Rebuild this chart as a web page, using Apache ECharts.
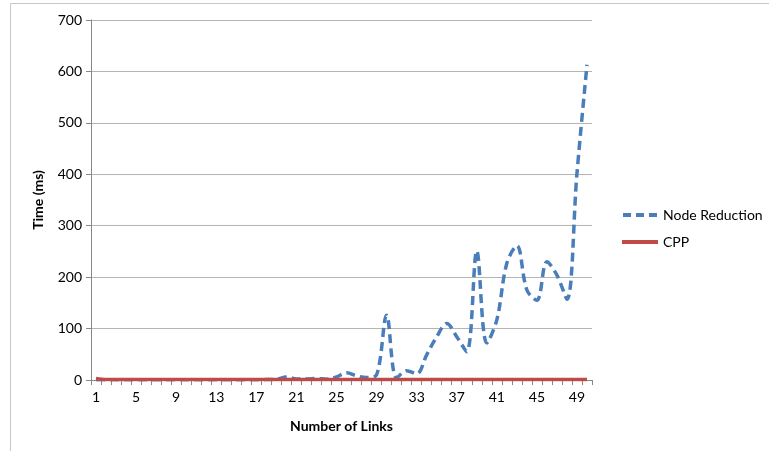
<!DOCTYPE html>
<html>
<head>
<meta charset="utf-8">
<script src="https://cdn.jsdelivr.net/npm/echarts@6/dist/echarts.min.js"></script>
<style>html,body{margin:0;padding:0;background:#fff;}#c{width:769px;height:451px;}</style>
</head>
<body>
<div id="c"></div>
<script>
const categories = Array.from({length: 50}, (_, i) => String(i + 1));
const nodeReduction = [
  0.5, 0.5, 0.5, 0.5, 0.5, 0.5, 0.5, 0.5, 0.5, 0.5,
  0.5, 0.5, 0.5, 0.5, 0.5, 0.5, 0.5, 0.8, 1.5, 6,
  2, 2, 3, 1.5, 6, 14, 8, 5, 10, 126,
  4, 18, 12, 49, 84, 110, 84, 55, 251, 72,
  117, 227, 261, 175, 155, 230, 204, 157, 402, 613
];
const cpp = [
  3, 1, 1, 1, 1, 1, 1, 1, 1, 1,
  1, 1, 1, 1, 1, 1, 1, 1, 1, 1,
  1, 1, 1, 1, 1, 1, 1, 1, 1, 1,
  1, 1, 1, 1, 1, 1, 1, 1, 1, 1,
  1, 1, 1, 1, 1, 1, 1, 1, 1, 1
];
const yTicks = [0, 100, 200, 300, 400, 500, 600, 700];

const FONT = 'Lato, "Open Sans", sans-serif';
const chart = echarts.init(document.getElementById('c'), null, {renderer: 'canvas'});
chart.setOption({
  animation: false,
  backgroundColor: '#fff',
  graphic: [{
    type: 'rect',
    shape: {x: 10.5, y: 3.5, width: 900, height: 600},
    style: {fill: 'none', stroke: '#c8c8c8', lineWidth: 1},
    silent: true, z: -1
  }],
  grid: {left: 91, right: 177, top: 20, bottom: 71, containLabel: false},
  legend: {
    orient: 'vertical',
    left: 617,
    top: 203,
    itemWidth: 36,
    itemHeight: 4,
    itemGap: 13,
    textStyle: {fontFamily: FONT, fontSize: 14, color: '#000'},
    data: [
      {name: 'Node Reduction', icon: 'path://M0,0 H8 V4 H0 Z M13,0 H21 V4 H13 Z M26,0 H34 V4 H26 Z'},
      {name: 'CPP', icon: 'rect'}
    ]
  },
  xAxis: {
    type: 'category',
    data: categories,
    boundaryGap: true,
    name: 'Number of Links',
    nameLocation: 'middle',
    nameGap: 39,
    nameTextStyle: {fontFamily: FONT, fontSize: 14, fontWeight: 'bold', color: '#000'},
    axisLine: {lineStyle: {color: '#888', width: 1}},
    axisTick: {show: true, interval: 0, length: 5, lineStyle: {color: '#888'}},
    axisLabel: {interval: 3, fontFamily: FONT, fontSize: 14, color: '#000', margin: 10},
    splitLine: {show: false}
  },
  yAxis: {
    type: 'value',
    min: 0, max: 700, interval: 100,
    name: 'Time (ms)',
    nameLocation: 'middle',
    nameGap: 46,
    nameRotate: 90,
    nameTextStyle: {fontFamily: FONT, fontSize: 14, fontWeight: 'bold', color: '#000'},
    axisLine: {show: true, lineStyle: {color: '#888', width: 1}},
    axisTick: {show: true, length: 5, lineStyle: {color: '#888'}},
    axisLabel: {fontFamily: FONT, fontSize: 14, color: '#000', margin: 9,
      formatter: v => yTicks.includes(v) ? String(v) : ''},
    splitLine: {show: true, lineStyle: {color: '#b4b4b4', width: 1}}
  },
  series: [
    {
      name: 'Node Reduction',
      type: 'line',
      data: nodeReduction,
      smooth: 0.35,
      symbol: 'none',
      lineStyle: {color: '#4a7ebb', width: 3.5, type: [9, 5]},
      itemStyle: {color: '#4a7ebb'},
      z: 2
    },
    {
      name: 'CPP',
      type: 'line',
      data: cpp,
      smooth: 0.3,
      symbol: 'none',
      lineStyle: {color: '#be4b48', width: 3.5},
      itemStyle: {color: '#be4b48'},
      z: 3
    }
  ]
});
</script>
</body>
</html>
